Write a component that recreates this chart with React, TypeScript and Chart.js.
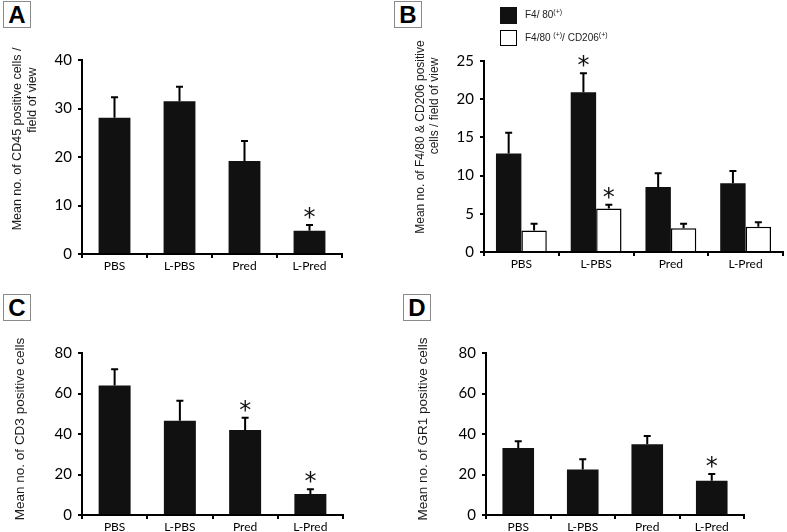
import React, { useEffect, useRef } from "react";
import { Chart, registerables } from "chart.js";

Chart.register(...registerables);

const categories = ["PBS", "L-PBS", "Pred", "L-Pred"];

const cd45Means = [28.1, 31.5, 19.2, 4.8];
const cd45Errors = [4.2, 3.0, 4.1, 1.2];
const cd45Stars = [false, false, false, true];
const cd45Ticks = [0, 10, 20, 30, 40];

const f480Means = [12.9, 20.9, 8.5, 9.0];
const f480Errors = [2.7, 2.5, 1.8, 1.6];
const f480Stars = [false, true, false, false];

const cd206Means = [2.8, 5.7, 3.1, 3.3];
const cd206Errors = [0.9, 0.5, 0.6, 0.6];
const cd206Stars = [false, true, false, false];
const macTicks = [0, 5, 10, 15, 20, 25];

const cd3Means = [63.9, 46.6, 42.0, 10.4];
const cd3Errors = [8.1, 9.8, 6.0, 2.3];
const cd3Stars = [false, false, true, true];
const cd3Ticks = [0, 20, 40, 60, 80];

const gr1Means = [33.1, 22.5, 35.0, 16.9];
const gr1Errors = [3.3, 5.0, 4.0, 3.4];
const gr1Stars = [false, false, false, true];
const gr1Ticks = [0, 20, 40, 60, 80];

const errorBarPlugin = {
  id: "errorBars",
  afterDatasetsDraw(chart: any) {
    const ctx = chart.ctx;
    const yScale = chart.scales.y;
    chart.data.datasets.forEach((ds: any, i: number) => {
      const meta = chart.getDatasetMeta(i);
      meta.data.forEach((bar: any, j: number) => {
        const v = ds.data[j];
        const top = yScale.getPixelForValue(v + ds.errors[j]);
        ctx.save();
        ctx.strokeStyle = "#000";
        ctx.lineWidth = 2;
        ctx.beginPath();
        ctx.moveTo(bar.x, bar.y);
        ctx.lineTo(bar.x, top);
        ctx.moveTo(bar.x - 3.5, top);
        ctx.lineTo(bar.x + 3.5, top);
        ctx.stroke();
        if (ds.stars[j]) {
          ctx.font = "24px 'DejaVu Sans'";
          ctx.fillStyle = "#111";
          ctx.textAlign = "center";
          ctx.textBaseline = "alphabetic";
          const m = ctx.measureText("*");
          const desiredBottom = top - 6;
          ctx.fillText("*", bar.x, desiredBottom - m.actualBoundingBoxDescent);
        }
        ctx.restore();
      });
    });
  },
};

type PanelProps = {
  left: number;
  top: number;
  width: number;
  height: number;
  area: { l: number; t: number; r: number; b: number };
  datasets: any[];
  ticks: number[];
  catPct: number;
};

function Panel({ left, top, width, height, area, datasets, ticks, catPct }: PanelProps) {
  const ref = useRef<HTMLCanvasElement | null>(null);
  useEffect(() => {
    if (!ref.current) return;
    const chart = new Chart(ref.current, {
      type: "bar",
      data: { labels: categories, datasets },
      options: {
        animation: false,
        responsive: false,
        maintainAspectRatio: false,
        layout: {
          padding: { left: 0, top: area.t, right: width - area.r, bottom: 0 },
        },
        datasets: {
          bar: { categoryPercentage: catPct, barPercentage: 1 },
        },
        plugins: { legend: { display: false }, tooltip: { enabled: false } },
        scales: {
          x: {
            afterFit: (s: any) => {
              s.height = height - area.b;
            },
            grid: {
              drawOnChartArea: false,
              drawTicks: true,
              tickLength: 4,
              color: "#000",
              lineWidth: 2,
            },
            border: { color: "#000", width: 2 },
            ticks: {
              color: "#000",
              padding: 1,
              font: { family: "Lato", size: 12 },
              maxRotation: 0,
            },
          },
          y: {
            min: ticks[0],
            max: ticks[ticks.length - 1],
            afterFit: (s: any) => {
              s.width = area.l;
            },
            afterBuildTicks: (s: any) => {
              s.ticks = ticks.map((v) => ({ value: v }));
            },
            grid: {
              drawOnChartArea: false,
              drawTicks: true,
              tickLength: 4,
              color: "#000",
              lineWidth: 2,
            },
            border: { color: "#000", width: 2 },
            ticks: {
              color: "#000",
              padding: 6,
              font: { family: "Lato", size: 15 },
            },
          },
        },
      },
      plugins: [errorBarPlugin],
    } as any);
    return () => chart.destroy();
  }, []);
  return (
    <canvas
      ref={ref}
      width={width}
      height={height}
      style={{ position: "absolute", left, top, width, height }}
    />
  );
}

function PanelLabel({ text, left, top }: { text: string; left: number; top: number }) {
  return (
    <div
      style={{
        position: "absolute",
        left,
        top,
        width: 28,
        height: 27,
        border: "1px solid #8a8a8a",
        boxSizing: "border-box",
        fontFamily: "'Liberation Sans', Arial, sans-serif",
        fontWeight: "bold",
        fontSize: 24,
        lineHeight: "26px",
        textAlign: "center",
        color: "#000",
        background: "#fff",
      }}
    >
      {text}
    </div>
  );
}

function VText({ text, cx, cy, size }: { text: string; cx: number; cy: number; size: number }) {
  return (
    <div
      style={{
        position: "absolute",
        left: cx,
        top: cy,
        transform: "translate(-50%, -50%) rotate(-90deg)",
        whiteSpace: "nowrap",
        fontFamily: "'Liberation Sans', Arial, sans-serif",
        fontSize: size,
        lineHeight: "16px",
        color: "#1a1a1a",
      }}
    >
      {text}
    </div>
  );
}

const supStyle: React.CSSProperties = { fontSize: 7, position: "relative", top: -4 };

export default function App() {
  const dsSingle = (means: number[], errors: number[], stars: boolean[]) => [
    {
      label: "mean",
      data: means,
      errors,
      stars,
      backgroundColor: "#111",
      borderWidth: 0,
    },
  ];
  const dsMac = [
    {
      label: "F4/ 80(+)",
      data: f480Means,
      errors: f480Errors,
      stars: f480Stars,
      backgroundColor: "#111",
      borderWidth: 0,
    },
    {
      label: "F4/80(+)/ CD206(+)",
      data: cd206Means,
      errors: cd206Errors,
      stars: cd206Stars,
      backgroundColor: "#fff",
      borderColor: "#000",
      borderWidth: 1.5,
    },
  ];
  return (
    <div
      style={{
        position: "absolute",
        left: 0,
        top: 0,
        width: 787,
        height: 532,
        background: "#fff",
        overflow: "hidden",
      }}
    >
      <Panel
        left={0}
        top={0}
        width={390}
        height={285}
        area={{ l: 82, t: 60, r: 342, b: 254 }}
        datasets={dsSingle(cd45Means, cd45Errors, cd45Stars)}
        ticks={cd45Ticks}
        catPct={0.49}
      />
      <Panel
        left={390}
        top={0}
        width={397}
        height={285}
        area={{ l: 94, t: 61, r: 393, b: 252 }}
        datasets={dsMac}
        ticks={macTicks}
        catPct={0.68}
      />
      <Panel
        left={0}
        top={270}
        width={390}
        height={262}
        area={{ l: 82, t: 83, r: 343, b: 245 }}
        datasets={dsSingle(cd3Means, cd3Errors, cd3Stars)}
        ticks={cd3Ticks}
        catPct={0.49}
      />
      <Panel
        left={390}
        top={270}
        width={397}
        height={262}
        area={{ l: 96, t: 83, r: 354, b: 245 }}
        datasets={dsSingle(gr1Means, gr1Errors, gr1Stars)}
        ticks={gr1Ticks}
        catPct={0.49}
      />

      <PanelLabel text="A" left={3} top={1} />
      <PanelLabel text="B" left={394} top={1} />
      <PanelLabel text="C" left={3} top={294} />
      <PanelLabel text="D" left={403} top={294} />

      <VText text="Mean no. of CD45 positive cells /" cx={17} cy={139} size={12.5} />
      <VText text="field of view" cx={32} cy={100} size={12.5} />
      <VText text="Mean no. of F4/80 & CD206 positive" cx={420} cy={137} size={12} />
      <VText text="cells / field of view" cx={434} cy={106} size={12} />
      <VText text="Mean no. of CD3 positive cells" cx={20} cy={429} size={13.5} />
      <VText text="Mean no. of GR1 positive cells" cx={423} cy={429} size={13.5} />

      <div
        style={{
          position: "absolute",
          left: 500,
          top: 7,
          width: 17,
          height: 17,
          background: "#111",
          boxSizing: "border-box",
        }}
      />
      <div
        style={{
          position: "absolute",
          left: 525,
          top: 8,
          fontFamily: "'Liberation Sans', Arial, sans-serif",
          fontSize: 10,
          lineHeight: "14px",
          color: "#222",
          whiteSpace: "nowrap",
        }}
      >
        F4/ 80<span style={supStyle}>(+)</span>
      </div>
      <div
        style={{
          position: "absolute",
          left: 500,
          top: 30,
          width: 17,
          height: 16,
          background: "#fff",
          border: "1.5px solid #000",
          boxSizing: "border-box",
        }}
      />
      <div
        style={{
          position: "absolute",
          left: 525,
          top: 31,
          fontFamily: "'Liberation Sans', Arial, sans-serif",
          fontSize: 10,
          lineHeight: "14px",
          color: "#222",
          whiteSpace: "nowrap",
        }}
      >
        F4/80 <span style={supStyle}>(+)</span>/ CD206<span style={supStyle}>(+)</span>
      </div>
    </div>
  );
}
